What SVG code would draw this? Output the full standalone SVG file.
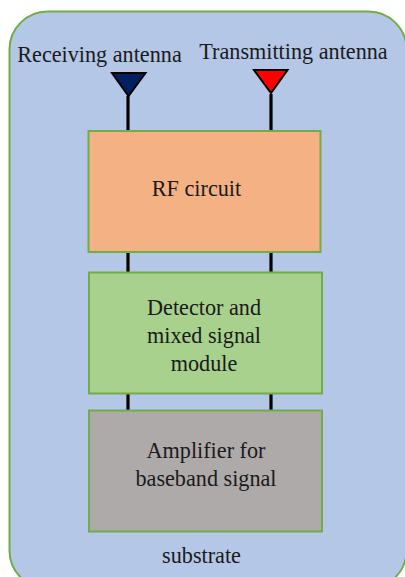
<svg xmlns="http://www.w3.org/2000/svg" width="405" height="577" viewBox="0 0 405 577">
<style>
text{font-family:"Liberation Serif","Times New Roman",serif;font-size:22.2px;fill:#1a1a1a;text-anchor:middle}
.box{stroke:#70ad47;stroke-width:2}
.ln{stroke:#000;stroke-width:3.2;fill:none}
</style>
<rect width="405" height="577" fill="#fff"/>
<g id="substrate"><rect x="9.500" y="11.500" width="397" height="577" rx="38" fill="#b4c7e7" stroke="#70ad47" stroke-width="2"/><text x="201.500" y="562.500">substrate</text></g>
<g id="connectors">
<path class="ln" d="M128 96V131M271 94V131M128 252V272M271 252V272M128 393V410M271 393V412"/>
</g>
<g id="receiving-antenna"><polygon points="112,73 145.500,73 128.500,96" fill="#002060" stroke="#000" stroke-width="2"/><text x="99.500" y="61.500">Receiving antenna</text></g>
<g id="transmitting-antenna"><polygon points="254,70 287.500,70 271,93" fill="#ff0000" stroke="#000" stroke-width="2"/><text x="293.500" y="58.500">Transmitting antenna</text></g>
<g id="rf-circuit"><rect class="box" x="88.500" y="131" width="232" height="121" fill="#f4b183"/><text x="196.500" y="195.500">RF circuit</text></g>
<g id="detector"><rect class="box" x="89" y="272.500" width="233" height="121" fill="#a9d18e"/><text x="204" y="314.500">Detector and</text><text x="204" y="342.500">mixed signal</text><text x="204" y="370.500">module</text></g>
<g id="amplifier"><rect class="box" x="89" y="410.500" width="233" height="121" fill="#aeaaaa"/><text x="206" y="457.500">Amplifier for</text><text x="206" y="485.500">baseband signal</text></g>
</svg>
